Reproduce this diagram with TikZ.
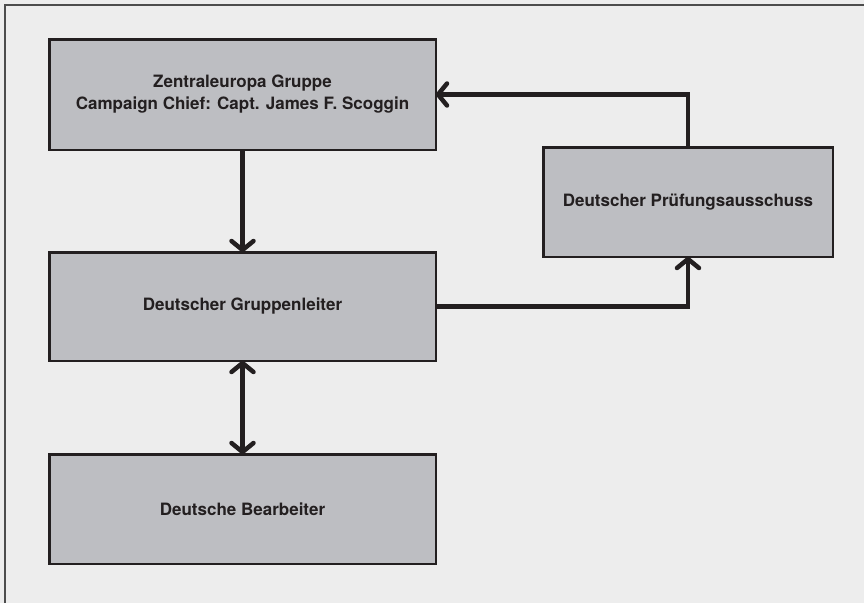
\documentclass[tikz,border=0pt]{standalone}
\usepackage{fontspec}
\setsansfont{TeX Gyre Heros}
\usetikzlibrary{arrows.meta, positioning}

\definecolor{bggray}{HTML}{EDEDED}
\definecolor{boxgray}{HTML}{BDBEC2}
\definecolor{inkblack}{HTML}{231F20}
\definecolor{framegray}{HTML}{4D4D4D}

\begin{document}
\begin{tikzpicture}[
    x=1pt, y=-1pt,
    font=\sffamily\bfseries\fontsize{17}{22}\selectfont,
    every node/.style={align=center, text=inkblack},
    unitbox/.style={draw=inkblack, line width=2.5pt, fill=boxgray, outer sep=0pt,
        minimum width=386.5pt, minimum height=109.5pt, inner sep=0pt},
    flow/.style={line width=4.5pt, draw=inkblack,
        -{Straight Barb[round, length=9pt, width=22pt]}},
    dflow/.style={line width=4.5pt, draw=inkblack,
        {Straight Barb[round, length=9pt, width=22pt]}-{Straight Barb[round, length=9pt, width=22pt]}}
]

% background and frame
\fill[bggray] (0,0) rectangle (864,603);
\useasboundingbox (0,0) rectangle (864,603);
\draw[framegray, line width=2pt] (5,603) -- (5,5) -- (864,5);

%-------------------------------
% 1) Boxes
%-------------------------------
\node[unitbox, minimum height=110.5pt] (zentral) at (242.5,94.5)
      {Zentraleuropa Gruppe\\Campaign Chief: Capt. James F. Scoggin};
\node[unitbox, minimum height=108.5pt, below=102.5pt of zentral] (gruppe)
      {Deutscher Gruppenleiter};
\node[unitbox, below=93.5pt of gruppe] (bearb)
      {Deutsche Bearbeiter};
\node[unitbox, minimum width=289.5pt] (pruef) at (688,202)
      {Deutscher Prüfungsausschuss};

%-------------------------------
% 2) Connections
%-------------------------------
\draw[flow] (zentral) -- (gruppe);
\draw[dflow] (gruppe) -- (bearb);
\draw[flow] (gruppe.east) -| (pruef.south);
\draw[flow] (pruef.north) |- (zentral.east);

\end{tikzpicture}
\end{document}
